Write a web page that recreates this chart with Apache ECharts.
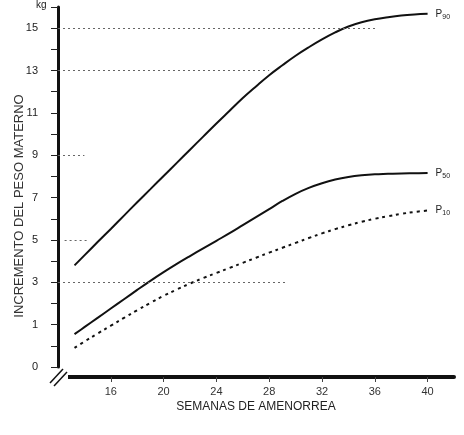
<!DOCTYPE html>
<html>
<head>
<meta charset="utf-8">
<script src="https://cdn.jsdelivr.net/npm/echarts@6/dist/echarts.min.js"></script>
<style>html,body{margin:0;padding:0;background:#fff}#c{width:464px;height:435px}</style>
</head>
<body>
<div id="c"></div>
<script>
// gestational weeks (x)
var weeks = [13.25, 14, 15, 16, 17, 18, 19, 20, 21, 22, 23, 24, 25, 26, 27, 28, 29, 30, 31, 32, 33, 34, 35, 36, 37, 38, 39, 40];
// weight gain (kg)
var p90 = [3.8, 4.27, 4.9, 5.52, 6.15, 6.78, 7.4, 8.02, 8.64, 9.26, 9.88, 10.5, 11.1, 11.7, 12.25, 12.78, 13.25, 13.7, 14.1, 14.47, 14.8, 15.08, 15.28, 15.42, 15.52, 15.6, 15.65, 15.68];
var p50 = [0.55, 0.88, 1.32, 1.76, 2.2, 2.64, 3.07, 3.48, 3.87, 4.24, 4.6, 4.96, 5.32, 5.7, 6.08, 6.46, 6.84, 7.18, 7.46, 7.68, 7.85, 7.97, 8.05, 8.1, 8.12, 8.14, 8.15, 8.16];
var p10 = [-0.1, 0.2, 0.58, 0.95, 1.32, 1.68, 2.03, 2.36, 2.66, 2.94, 3.2, 3.44, 3.68, 3.92, 4.16, 4.4, 4.63, 4.86, 5.09, 5.31, 5.51, 5.69, 5.86, 6.0, 6.12, 6.23, 6.32, 6.39];
var seriesNames = ['90', '50', '10'];
// reference lines: [fromWeek, toWeek, kg]
var refLines = [[12, 36.2, 15], [12, 28, 13], [12, 14, 9], [12.5, 14.3, 5], [12, 29.3, 3]];
var yAxisName = 'INCREMENTO DEL PESO MATERNO';
var xAxisName = 'SEMANAS DE AMENORREA';

function pairs(v) { return weeks.map(function (w, i) { return [w, v[i]]; }); }
var FONT = 'Liberation Sans, Arial, sans-serif';
var endLbl = function (sub) {
  return {
    show: true, distance: 8,
    formatter: '{p|P}{s|' + sub + '}',
    rich: {
      p: { fontSize: 10, color: '#222', fontFamily: FONT },
      s: { fontSize: 7, color: '#222', fontFamily: FONT, verticalAlign: 'bottom', padding: [6, 0, 0, 0] }
    }
  };
};

var chart = echarts.init(document.getElementById('c'));
chart.setOption({
  animation: false,
  grid: { left: 58, top: 7, right: 10, bottom: 68, outerBoundsMode: 'none', containLabel: false },
  xAxis: {
    type: 'value', min: 12, max: 42, interval: 4, offset: 10,
    name: xAxisName, nameLocation: 'middle', nameGap: 24, nameMoveOverlap: false,
    nameTextStyle: { fontSize: 12, color: '#222', fontFamily: FONT },
    axisLine: { onZero: false, lineStyle: { color: '#111', width: 4 } },
    axisTick: { show: true, length: 5, lineStyle: { color: '#444', width: 1 } },
    axisLabel: { showMinLabel: false, showMaxLabel: false, margin: 9, fontSize: 11, color: '#333', fontFamily: FONT },
    splitLine: { show: false }
  },
  yAxis: {
    type: 'value', min: -1, max: 16, interval: 1,
    name: yAxisName, nameLocation: 'middle', nameGap: 32, nameRotate: 90, nameMoveOverlap: false,
    nameTextStyle: { fontSize: 13, color: '#333', fontFamily: FONT, padding: [0, 38, 0, 0] },
    axisLine: { show: true, onZero: false, lineStyle: { color: '#111', width: 3 } },
    axisTick: { show: true, length: 7, lineStyle: { color: '#222', width: 1 } },
    axisLabel: {
      margin: 20, fontSize: 11, color: '#222', fontFamily: FONT,
      formatter: function (v) { return v === -1 ? '0' : ((v > 0 && v % 2 === 1) ? String(v) : ''); }
    },
    splitLine: { show: false }
  },
  graphic: [
    { type: 'text', left: 36, top: 0, style: { text: 'kg', fontSize: 10, fill: '#222', fontFamily: FONT } },
    { type: 'rect', shape: { x: 50, y: 371, width: 18, height: 12 }, style: { fill: '#fff' }, z: 100 },
    { type: 'line', shape: { x1: 50, y1: 383, x2: 63, y2: 369 }, style: { stroke: '#111', lineWidth: 1.5 }, z: 101 },
    { type: 'line', shape: { x1: 54, y1: 386, x2: 67, y2: 372 }, style: { stroke: '#111', lineWidth: 1.5 }, z: 101 }
  ],
  series: [
    {
      type: 'line', name: 'P' + seriesNames[0], data: pairs(p90), smooth: 0.4, showSymbol: false,
      lineStyle: { color: '#111', width: 2 }, endLabel: endLbl(seriesNames[0]),
      markLine: {
        silent: true, symbol: 'none', label: { show: false },
        lineStyle: { color: '#666', width: 1, type: [2, 3] },
        data: refLines.map(function (r) { return [{ coord: [r[0], r[2]] }, { coord: [r[1], r[2]] }]; })
      }
    },
    {
      type: 'line', name: 'P' + seriesNames[1], data: pairs(p50), smooth: 0.4, showSymbol: false,
      lineStyle: { color: '#111', width: 2 }, endLabel: endLbl(seriesNames[1])
    },
    {
      type: 'line', name: 'P' + seriesNames[2], data: pairs(p10), smooth: 0.4, showSymbol: false,
      lineStyle: { color: '#111', width: 2, type: [3, 4] }, endLabel: endLbl(seriesNames[2])
    }
  ]
});
</script>
</body>
</html>
